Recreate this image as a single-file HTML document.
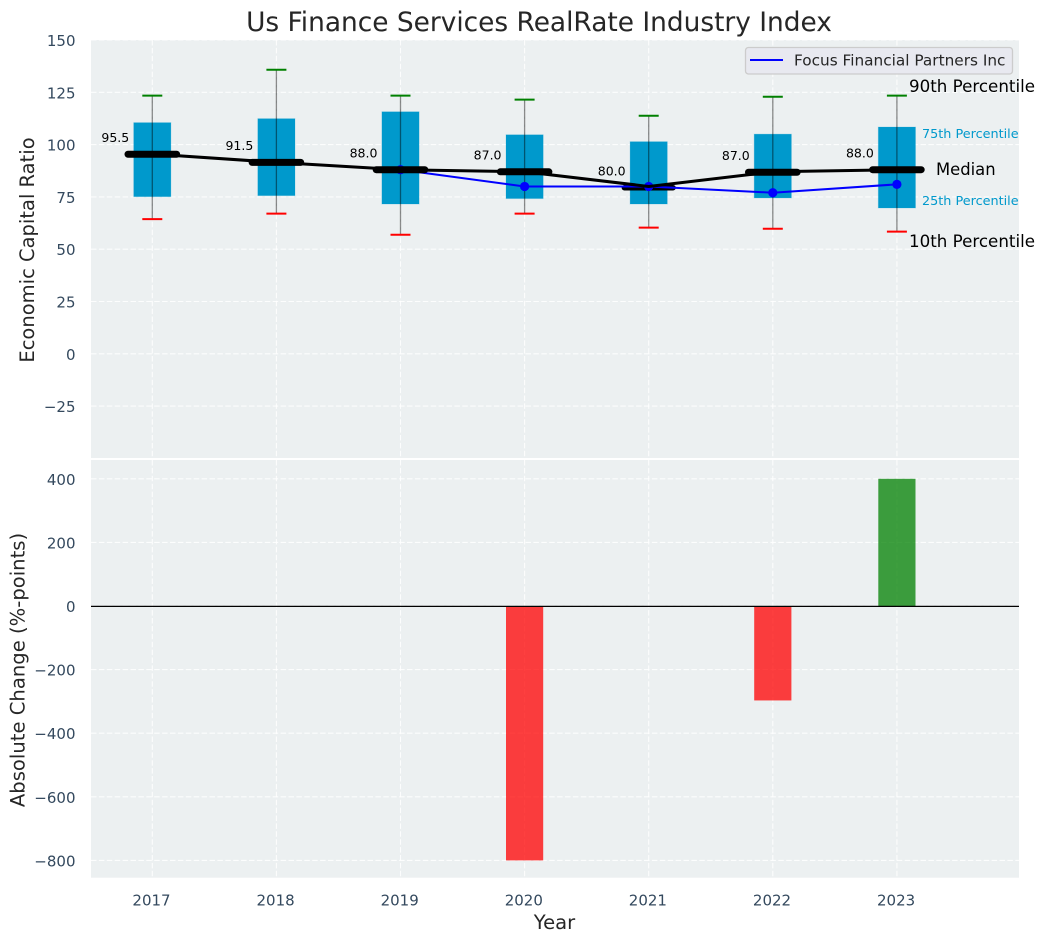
<!DOCTYPE html>
<html>
<head>
<meta charset="utf-8">
<title>Us Finance Services RealRate Industry Index</title>
<style>
html,body{margin:0;padding:0;background:#fff;}
svg{display:block;font-family:"DejaVu Sans","Liberation Sans",sans-serif;}
</style>
</head>
<body>
<svg id="chart" xmlns="http://www.w3.org/2000/svg" width="1044" height="942" viewBox="0 0 1044 942">
  <rect x="0" y="0" width="1044" height="942" fill="#ffffff"/>
  <rect x="91" y="40" width="928" height="418" fill="#ecf0f1"/>
  <rect x="91" y="460" width="928" height="417.7" fill="#ecf0f1"/>
  <g id="grid"></g>
  <g id="bars"></g>
  <g id="boxes"></g>
  <g id="marks-under"></g>
  <g id="company"></g>
  <g id="marks-over"></g>
  <g id="lines"></g>
  <g id="ticks"></g>
  <text x="539" y="31" text-anchor="middle" font-size="26.4px" fill="#262626">Us Finance Services RealRate Industry Index</text>
  <text transform="translate(34,250) rotate(-90)" text-anchor="middle" font-size="19.5px" fill="#262626">Economic Capital Ratio</text>
  <text transform="translate(24.500,670) rotate(-90)" text-anchor="middle" font-size="19.6px" fill="#262626">Absolute Change (%-points)</text>
  <text x="554.500" y="929" text-anchor="middle" font-size="19.6px" fill="#262626">Year</text>
  <text x="909" y="92" font-size="16.7px" fill="#000">90th Percentile</text>
  <text x="922" y="138" font-size="12.8px" fill="#0099cc">75th Percentile</text>
  <text x="936" y="175" font-size="16.4px" fill="#000">Median</text>
  <text x="922" y="205" font-size="12.8px" fill="#0099cc">25th Percentile</text>
  <text x="909" y="247" font-size="16.7px" fill="#000">10th Percentile</text>
  <g>
    <rect x="745.5" y="47.500" width="267" height="26.500" rx="3" fill="#e8e9f0" stroke="#cccccc" stroke-width="1.300"/>
    <line x1="750" y1="60" x2="783" y2="60" stroke="#0000ff" stroke-width="2"/>
    <text x="794" y="65.500" font-size="15.3px" fill="#262626">Focus Financial Partners Inc</text>
  </g>
</svg>
<script>
var years = [2017, 2018, 2019, 2020, 2021, 2022, 2023];
var p10 = [64.4, 67, 56.9, 67, 60.3, 59.8, 58.4];
var p25 = [75.1, 75.6, 71.6, 74.2, 71.6, 74.5, 69.7];
var boxMedians = [95.4, 91.5, 88, 87, 79.4, 86.8, 88];
var medians = [95.5, 91.5, 88, 87, 80, 87, 88];
var medianLabels = ["95.5", "91.5", "88.0", "87.0", "80.0", "87.0", "88.0"];
var p75 = [110.5, 112.4, 115.7, 104.7, 101.4, 105, 108.4];
var p90 = [123.4, 135.8, 123.4, 121.5, 113.8, 122.9, 123.4];
var companyYears = [2019, 2020, 2021, 2022, 2023];
var companyValues = [88, 80, 80, 77, 81];
var changeYears = [2020, 2022, 2023];
var changeValues = [-800, -297, 400];
var topTicks = [150, 125, 100, 75, 50, 25, 0, -25];
var bottomTicks = [400, 200, 0, -200, -400, -600, -800];

var NS = 'http://www.w3.org/2000/svg';
function xScale(year) { return 152.3 + 124.1 * (year - 2017); }
function yTop(v) { return 353.8 - 2.092 * v; }
function yBottom(v) { return 606 - 0.318 * v; }
function make(tag, parent, attrs) {
  var el = document.createElementNS(NS, tag);
  for (var k in attrs) { el.setAttribute(k, attrs[k]); }
  parent.appendChild(el);
  return el;
}
function tickText(v) { return String(v).replace('-', '\u2212'); }

var grid = document.getElementById('grid');
var bars = document.getElementById('bars');
var boxes = document.getElementById('boxes');
var marksUnder = document.getElementById('marks-under');
var company = document.getElementById('company');
var marksOver = document.getElementById('marks-over');
var lines = document.getElementById('lines');
var ticks = document.getElementById('ticks');

function gridLine(x1, y1, x2, y2) {
  return make('line', grid, { x1: x1, y1: y1, x2: x2, y2: y2, stroke: '#ffffff', 'stroke-opacity': 0.85, 'stroke-width': 1.1, 'stroke-dasharray': '5.5 2.4' });
}

topTicks.forEach(function (v) {
  var line = gridLine(91, yTop(v), 1019, yTop(v));
  
  
  var label = make('text', ticks, { x: 75.5, y: yTop(v) + 6, 'text-anchor': 'end', 'font-size': '15px', fill: '#34495e' });
  label.textContent = tickText(v);
  
  
});

bottomTicks.forEach(function (v) {
  var line = gridLine(91, yBottom(v), 1019, yBottom(v));
  
  
  var label = make('text', ticks, { x: 75.5, y: yBottom(v) + 6, 'text-anchor': 'end', 'font-size': '15px', fill: '#34495e' });
  label.textContent = tickText(v);
  
  
});

years.forEach(function (year) {
  var x = xScale(year);
  var topLine = gridLine(x, 40, x, 458);
  
  
  var bottomLine = gridLine(x, 460, x, 877.7);
  
  
  var label = make('text', ticks, { x: x - 0.8, y: 905.5, 'text-anchor': 'middle', 'font-size': '15px', fill: '#34495e' });
  label.textContent = String(year);
  
  
});

changeYears.forEach(function (year, i) {
  var v = changeValues[i];
  var top = Math.min(yBottom(0), yBottom(v));
  var h = Math.abs(yBottom(v) - yBottom(0));
  var bar = make('rect', bars, { x: xScale(year) - 18.6, y: top, width: 37.2, height: h, fill: v < 0 ? '#ff0000' : '#008000', 'fill-opacity': 0.75 });
  
  
});

var zeroLine = make('line', bars, { x1: 91, y1: yBottom(0) + 0.4, x2: 1019, y2: yBottom(0) + 0.4, stroke: '#000000', 'stroke-width': 1.3 });



years.forEach(function (year, i) {
  var x = xScale(year);
  var box = make('rect', boxes, { x: x - 18.6, y: yTop(p75[i]), width: 37.2, height: yTop(p25[i]) - yTop(p75[i]), fill: '#0099cc', stroke: '#0099cc', 'stroke-opacity': 0.2, 'stroke-width': 1 });
  
  
  var whisker = make('line', boxes, { x1: x, y1: yTop(p10[i]), x2: x, y2: yTop(p90[i]), stroke: '#000000', 'stroke-opacity': 0.45, 'stroke-width': 1.3 });
  
  
  var capHigh = make('line', boxes, { x1: x - 10, y1: yTop(p90[i]), x2: x + 10, y2: yTop(p90[i]), stroke: '#008000', 'stroke-width': 2 });
  
  
  var capLow = make('line', boxes, { x1: x - 10, y1: yTop(p10[i]), x2: x + 10, y2: yTop(p10[i]), stroke: '#ff0000', 'stroke-width': 2 });
  
  
});

function pointsFor(xs, ys) {
  return xs.map(function (year, i) { return xScale(year) + ',' + yTop(ys[i]); }).join(' ');
}

var companyLine = make('polyline', company, { points: pointsFor(companyYears, companyValues), fill: 'none', stroke: '#0000ff', 'stroke-width': 2 });


companyYears.forEach(function (year, i) {
  var dot = make('circle', company, { cx: xScale(year), cy: yTop(companyValues[i]), r: 4.6, fill: '#0000ff' });
  
  
});

var medianLine = make('polyline', lines, { points: pointsFor(years, medians), fill: 'none', stroke: '#000000', 'stroke-width': 3 });



years.forEach(function (year, i) {
  var x = xScale(year);
  var y = yTop(boxMedians[i]);
  var companyIndex = companyYears.indexOf(year);
  var below = companyIndex >= 0 && boxMedians[i] < companyValues[companyIndex] && boxMedians[i] < medians[i];
  var mark = make('line', below ? marksUnder : marksOver, { x1: x - 24.3, y1: y, x2: x + 24.3, y2: y, stroke: '#000000', 'stroke-width': below ? 5.5 : 7, 'stroke-linecap': 'round' });
  
  
  var label = make('text', lines, { x: x - 37, y: y - 12.2, 'text-anchor': 'middle', 'font-size': '12.5px', fill: '#000000' });
  label.textContent = medianLabels[i];
  
  
});
</script>
</body>
</html>
